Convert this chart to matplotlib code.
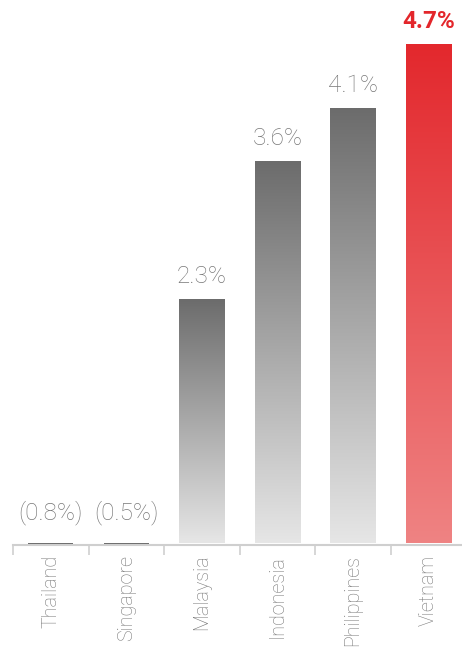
import numpy as np
import matplotlib
matplotlib.use("Agg")
import matplotlib.pyplot as plt
from matplotlib.colors import LinearSegmentedColormap

countries = ["Thailand", "Singapore", "Malaysia", "Indonesia", "Philippines", "Vietnam"]
growth = [-0.8, -0.5, 2.3, 3.6, 4.1, 4.7]
labels = ["(0.8%)", "(0.5%)", "2.3%", "3.6%", "4.1%", "4.7%"]
highlight = "Vietnam"

plt.rcParams["font.family"] = ["Roboto", "DejaVu Sans"]

grey_cmap = LinearSegmentedColormap.from_list("g", ["#e6e6e6", "#6c6c6c"])
red_cmap = LinearSegmentedColormap.from_list("r", ["#ef8383", "#e3282d"])

fig = plt.figure(figsize=(4.62, 6.51), dpi=100)
ax = fig.add_axes([13 / 462, 106 / 651, 453 / 462, 545 / 651])

x = np.arange(len(countries))
width = 0.6
grad = np.linspace(0, 1, 256).reshape(-1, 1)

for xi, name, val, lab in zip(x, countries, growth, labels):
    is_hi = name == highlight
    cmap = red_cmap if is_hi else grey_cmap
    if val > 0:
        ax.imshow(grad, cmap=cmap, aspect="auto", origin="lower",
                  extent=(xi - width / 2, xi + width / 2, 0, val), zorder=2)
    else:
        ax.bar(xi, val, width=width, color="#6c6c6c", zorder=2)
    ax.annotate(lab, (xi, max(val, 0)), xytext=(0, 8 if val > 0 else 13),
                textcoords="offset points", ha="center", va="bottom",
                fontsize=17.5, color="#e3262b" if is_hi else "#787878",
                fontweight="bold" if is_hi else "light")

ax.set_xlim(-0.5, len(countries) - 0.5)
ax.set_ylim(-0.018, 5.12)

for s in ["top", "right", "left"]:
    ax.spines[s].set_visible(False)
ax.spines["bottom"].set_color("#cfcfcf")
ax.spines["bottom"].set_linewidth(1.5)
ax.set_yticks([])

ax.set_xticks(x)
ax.set_xticklabels(countries, rotation=90, fontsize=14.2, color="#787878",
                   fontweight="light")
ax.tick_params(axis="x", which="major", length=0, pad=7)
ax.set_xticks(np.arange(len(countries) + 1) - 0.5, minor=True)
ax.tick_params(axis="x", which="minor", length=7, width=1.2, color="#cfcfcf")

fig.savefig("out.png", dpi=100)
